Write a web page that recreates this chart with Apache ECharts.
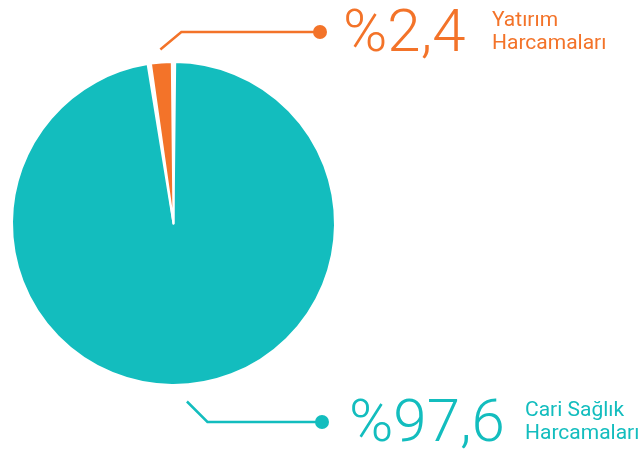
<!DOCTYPE html>
<html>
<head>
<meta charset="utf-8">
<script src="https://cdn.jsdelivr.net/npm/echarts@6/dist/echarts.min.js"></script>
<style>
  html, body { margin: 0; background: #fff; }
  #chart { width: 644px; height: 450px; }
</style>
</head>
<body>
<div id="chart"></div>
<script>
const names = ["Cari Sağlık Harcamaları", "Yatırım Harcamaları"];
const nameLines = [["Cari Sağlık", "Harcamaları"], ["Yatırım", "Harcamaları"]];
const values = [97.6, 2.4];
const valueLabels = ["%97,6", "%2,4"];
const colors = ["#13bdbe", "#f37329"];

// callout placement: dot centre, gap before the number, offset of the name column,
// distance of the leader start from the pie edge, slope of the leader's first leg
const callouts = [
  { x: 322, y: 422, gap: 20, nameLeft: 210, offset: 17, slope: 1.0 },
  { x: 320, y: 32, gap: 16, nameLeft: 179, offset: 13, slope: 1.2 }
];

const chart = echarts.init(document.getElementById("chart"));

const makeLabel = (i) => {
  const c = callouts[i];
  return {
    show: true,
    position: "outside",
    formatter:
      "{sp|}{n|" + nameLines[i][0] + "}\n{dot|}{v|" + valueLabels[i] + "}\n{sp|}{n|" + nameLines[i][1] + "}",
    rich: {
      sp: { width: c.nameLeft, lineHeight: 22 },
      n: { fontFamily: "Roboto", fontSize: 21, lineHeight: 22, color: colors[i] },
      dot: { width: 14, height: 14, borderRadius: 7, backgroundColor: colors[i], lineHeight: 1 },
      v: {
        fontFamily: "Roboto",
        fontSize: 60,
        fontWeight: 300,
        lineHeight: 1,
        color: colors[i],
        padding: [8, 0, 0, c.gap]
      }
    }
  };
};

const option = {
  animation: false,
  series: [
    {
      type: "pie",
      center: [173.5, 223.5],
      radius: 161.5,
      startAngle: 90,
      clockwise: true,
      padAngle: 1.2,
      avoidLabelOverlap: false,
      itemStyle: { borderColor: "#fff", borderWidth: 2 },
      labelLine: { show: true, lineStyle: { width: 2.5 } },
      labelLayout: (params) => {
        const c = callouts[params.dataIndex];
        const pts = params.labelLinePoints;
        const dx = pts[1][0] - pts[0][0];
        const dy = pts[1][1] - pts[0][1];
        const len = Math.hypot(dx, dy) || 1;
        const sx = pts[0][0] + (dx / len) * c.offset;
        const sy = pts[0][1] + (dy / len) * c.offset;
        const rise = Math.abs(c.y - sy);
        return {
          x: c.x - 7,
          y: c.y,
          align: "left",
          verticalAlign: "middle",
          labelLinePoints: [[sx, sy], [sx + rise * c.slope, c.y], [c.x, c.y]]
        };
      },
      data: values.map((v, i) => ({
        name: names[i],
        value: v,
        itemStyle: { color: colors[i] },
        label: makeLabel(i),
        labelLine: { lineStyle: { color: colors[i] } }
      }))
    }
  ]
};

chart.setOption(option);
</script>
</body>
</html>
